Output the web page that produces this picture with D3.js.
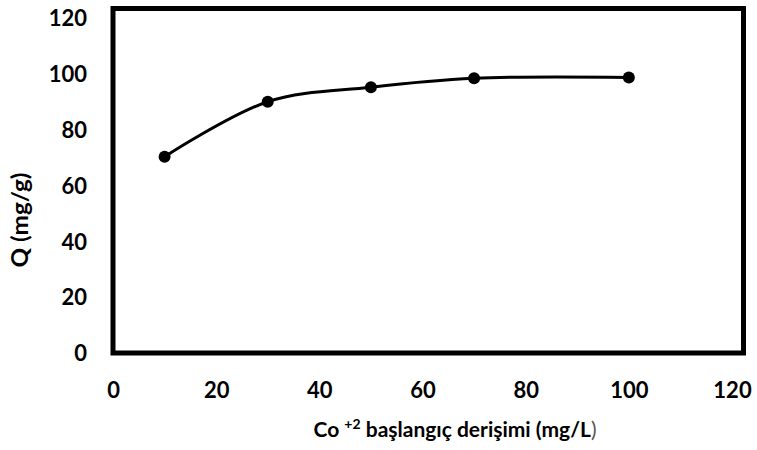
<!DOCTYPE html>
<html>
<head>
<meta charset="utf-8">
<script src="https://cdn.jsdelivr.net/npm/d3@7"></script>
<style>
  html, body { margin: 0; padding: 0; background: #fff; }
  svg { display: block; }
  text { font-family: Lato, "Open Sans", sans-serif; font-weight: bold; fill: #000; }
</style>
</head>
<body>
<svg id="chart" width="757" height="450"></svg>
<script>
const concentrations = [10, 30, 50, 70, 100];
const qValues = [70.3, 90.0, 95.2, 98.4, 98.7];
const xTicks = [0, 20, 40, 60, 80, 100, 120];
const yTicks = [0, 20, 40, 60, 80, 100, 120];

const svg = d3.select("#chart");
const x = d3.scaleLinear().domain([0, 120]).range([113, 732]);
const y = d3.scaleLinear().domain([0, 120]).range([353, 18]);

// frame
svg.append("rect")
  .attr("x", x(0)).attr("y", y(120) - 9.5)
  .attr("width", x(120) + 11.5 - x(0))
  .attr("height", y(0) - (y(120) - 9.5))
  .attr("fill", "none").attr("stroke", "#000").attr("stroke-width", 5);

// axes (labels only)
const xAxis = svg.append("g").attr("transform", `translate(0,${y(0)})`)
  .call(d3.axisBottom(x).tickValues(xTicks).tickSize(0).tickPadding(26));
xAxis.select(".domain").remove();
xAxis.selectAll("text").style("font-size", "22px").attr("dy", "0.35em").attr("y", 37);

const yAxis = svg.append("g").attr("transform", `translate(${x(0)},0)`)
  .call(d3.axisLeft(y).tickValues(yTicks).tickSize(0).tickPadding(26));
yAxis.select(".domain").remove();
yAxis.selectAll("text").style("font-size", "22px").attr("dy", "0.35em");

// line
const line = d3.line().x(d => x(d[0])).y(d => y(d[1])).curve(d3.curveCatmullRom.alpha(0.5));
const pts = concentrations.map((c, i) => [c, qValues[i]]);
svg.append("path").datum(pts).attr("d", line)
  .attr("fill", "none").attr("stroke", "#000").attr("stroke-width", 3);
svg.selectAll("circle.pt").data(pts).enter().append("circle")
  .attr("class", "pt").attr("cx", d => x(d[0])).attr("cy", d => y(d[1]))
  .attr("r", 6).attr("fill", "#000");

// axis titles
const xt = svg.append("text").attr("x", 455).attr("y", 437).attr("text-anchor", "middle")
  .style("font-size", "21px");
xt.append("tspan").text("Co ");
xt.append("tspan").text("+2").style("font-size", "14px").attr("dy", -8);
xt.append("tspan").text(" başlangıç derişimi (mg/L").attr("dy", 8);
xt.append("tspan").text(")").style("font-weight", "normal").style("fill", "#555");

svg.append("text").attr("transform", "translate(28,220) rotate(-90)")
  .attr("text-anchor", "middle").style("font-size", "22px")
  .attr("textLength", 95).attr("lengthAdjust", "spacingAndGlyphs").text("Q (mg/g)");
</script>
</body>
</html>
